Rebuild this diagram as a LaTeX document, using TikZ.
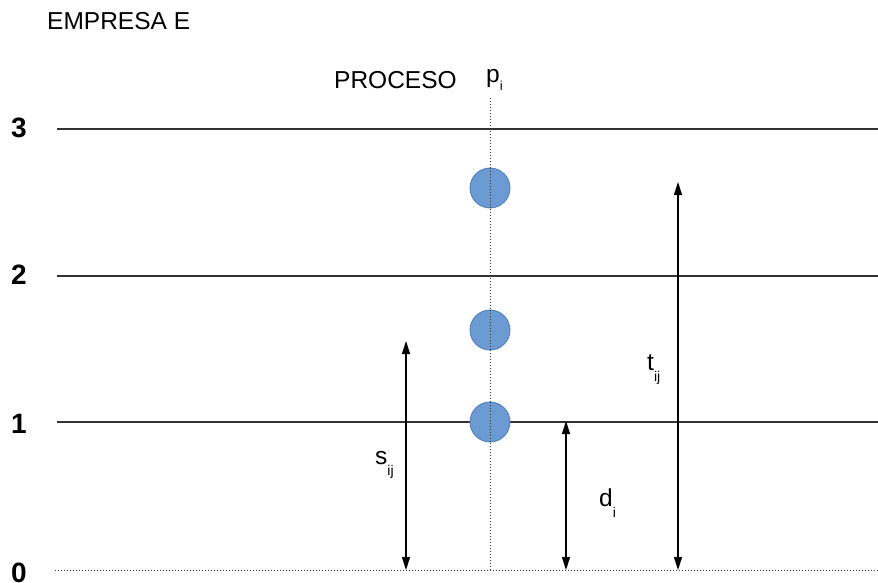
\documentclass[tikz,border=0pt]{standalone}
\usepackage{fontspec}
\setmainfont{Liberation Sans}
\usetikzlibrary{arrows.meta}
\definecolor{dotblue}{HTML}{6B9BD2}
\definecolor{dotedge}{HTML}{4A7BB8}
\definecolor{linegray}{HTML}{333333}
\newcommand{\lowsub}[1]{\raisebox{-11pt}{\fontsize{14}{16}\selectfont #1}}
\begin{document}
\begin{tikzpicture}[x=1pt,y=-1pt,
  level/.style={draw=linegray,line width=1.2pt},
  levlabel/.style={font=\fontsize{28}{32}\selectfont\bfseries,anchor=center,inner sep=0pt},
  txt/.style={font=\fontsize{24.5}{28}\selectfont,inner sep=0pt},
  dot/.style={circle,fill=dotblue,draw=dotedge,line width=0.8pt,minimum size=40pt,inner sep=0pt},
  dim/.style={draw=black,line width=1.2pt,{Triangle[length=13pt,width=8pt]}-{Triangle[length=13pt,width=8pt]}}]
\useasboundingbox (0,0) rectangle (878,583);
% level labels
\node[levlabel] (l3) at (19,128) {3};
\node[levlabel] (l2) at (19,275) {2};
\node[levlabel] (l1) at (19,424) {1};
\node[levlabel] (l0) at (19,573) {0};
% level lines
\coordinate (a3) at (57,129); \coordinate (b3) at (878,129);
\coordinate (a2) at (57,276); \coordinate (b2) at (878,276);
\coordinate (a1) at (57,422); \coordinate (b1) at (878,422);
\coordinate (a0) at (55,570); \coordinate (b0) at (878,570);
\draw[level] (a3) -- (b3);
\draw[level] (a2) -- (b2);
\draw[level] (a1) -- (b1);
\draw[draw=linegray,line width=1pt,dotted] (a0) -- (b0);
% texts
\node[txt,anchor=west] (emp) at (47,21) {EMPRESA E};
\node[txt,anchor=west] (proc) at (334,80) {PROCESO};
\node[txt,anchor=west] (pi) at (486,80) {p\raisebox{-8pt}{\fontsize{13}{15}\selectfont i}};
% process line
\coordinate (ptop) at (490,98);
\coordinate (pbot) at (490,570);
\draw[draw=linegray,line width=1pt,dotted] (ptop) -- (pbot);
% dots
\node[dot] (c3) at (490,188) {};
\node[dot] (c2) at (490,330) {};
\node[dot] (c1) at (490,422) {};
\draw[draw=linegray,line width=1pt,dotted] (c3.north) -- (c3.south);
\draw[draw=linegray,line width=1pt,dotted] (c2.north) -- (c2.south);
\draw[draw=linegray,line width=1pt,dotted] (c1.north) -- (c1.south);
% dimension arrows
\coordinate (s0) at (406,570); \coordinate (s1) at (406,341);
\coordinate (d0) at (566,570); \coordinate (d1) at (566,421);
\coordinate (t0) at (678,570); \coordinate (t1) at (678,182);
\draw[dim] (s0) -- (s1);
\draw[dim] (d0) -- (d1);
\draw[dim] (t0) -- (t1);
\node[txt,anchor=west] (sl) at (375,465) {s\lowsub{ij}};
\node[txt,anchor=west] (dl) at (599,503) {d\lowsub{i}};
\node[txt,anchor=west] (tl) at (647,370) {t\lowsub{ij}};
\end{tikzpicture}
\end{document}
